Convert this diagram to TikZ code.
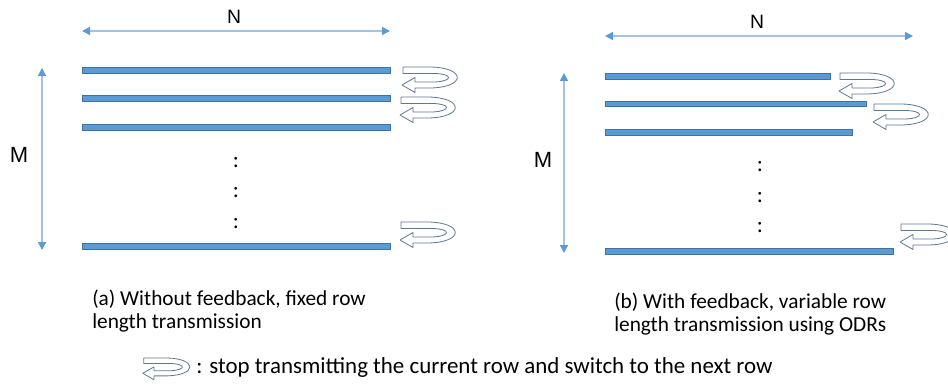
\documentclass[tikz,border=0pt]{standalone}
\usepackage{fontspec}
\setmainfont{Carlito}
\newfontfamily\arialfont{Liberation Sans}
\usetikzlibrary{arrows.meta}
\definecolor{barfill}{HTML}{5B9BD5}
\definecolor{barline}{HTML}{41719C}
\definecolor{dimline}{HTML}{A4C2E3}
\definecolor{dimhead}{HTML}{5B9BD5}
\definecolor{curlline}{HTML}{5F7890}
\begin{document}
\begin{tikzpicture}[x=0.75pt,y=-0.75pt,
  rowbar/.style={fill=barfill,draw=barline,line width=0.5pt},
  dimarrow/.style={draw=dimline,line width=1.1pt,
    {Triangle[length=6pt,width=6pt,color=dimhead]}-{Triangle[length=6pt,width=6pt,color=dimhead]}},
  nlbl/.style={font=\arialfont\fontsize{14.5}{16}\selectfont,inner sep=0pt},
  mlbl/.style={font=\arialfont\fontsize{16.5}{18}\selectfont,inner sep=0pt},
  dotlbl/.style={font=\fontsize{17}{19}\selectfont,inner sep=0pt},
  captext/.style={font=\fontsize{16}{17.25}\selectfont,align=left,inner sep=0pt,anchor=base west},
  legendtext/.style={font=\fontsize{17.2}{19}\selectfont,inner sep=0pt,anchor=base west},
  curl/.pic={
    \draw[curlline,fill=white,line width=0.6pt,line join=round]
      (2,0) -- (30,0) .. controls (65,1) and (65,20) .. (30,21) -- (14,21)
      -- (14,25.5) -- (1,18) -- (14,10.5) -- (14,15) -- (34,15)
      .. controls (52,14) and (52,7) .. (34,6.5) -- (2,6.5) -- cycle;
  }
]
\useasboundingbox[fill=white] (0,0) rectangle (948,388);

% ---------- left panel ----------
\coordinate (nLa) at (82,31);
\coordinate (nLb) at (390,31);
\draw[dimarrow] (nLa) -- (nLb);
\node[nlbl] (NL) at (234,17) {N};

\coordinate (mLa) at (42,68);
\coordinate (mLb) at (42,250);
\draw[dimarrow] (mLa) -- (mLb);
\node[mlbl] (ML) at (19,155) {M};

\draw[rowbar] (82,67) rectangle (390,73);
\draw[rowbar] (82,95) rectangle (390,101);
\draw[rowbar] (82,124) rectangle (390,130);
\draw[rowbar] (82,243) rectangle (390,249);

\node[dotlbl] (dL1) at (236,163) {:};
\node[dotlbl] (dL2) at (236,193) {:};
\node[dotlbl] (dL3) at (236,224) {:};

\pic at (401,67) {curl};
\pic at (399,97) {curl};
\pic at (399,222) {curl};

\node[captext] (capA) at (92,328) {(a) Without feedback, fixed row\\length transmission};

% ---------- right panel ----------
\coordinate (nRa) at (605,36);
\coordinate (nRb) at (913,36);
\draw[dimarrow] (nRa) -- (nRb);
\node[nlbl] (NR) at (757,22) {N};

\coordinate (mRa) at (564,73);
\coordinate (mRb) at (564,253);
\draw[dimarrow] (mRa) -- (mRb);
\node[mlbl] (MR) at (543,160) {M};

\draw[rowbar] (605,73) rectangle (830,79);
\draw[rowbar] (605,101) rectangle (866,106);
\draw[rowbar] (605,129) rectangle (852,135);
\draw[rowbar] (605,248) rectangle (893,254);

\node[dotlbl] (dR1) at (760,167) {:};
\node[dotlbl] (dR2) at (760,198) {:};
\node[dotlbl] (dR3) at (760,228) {:};

\pic at (838,73) {curl};
\pic at (872,104) {curl};
\pic at (899,224) {curl};

\node[captext] (capB) at (614,331) {(b) With feedback, variable row\\length transmission using ODRs};

% ---------- legend ----------
\pic[scale=0.85] at (142,358) {curl};
\node[legendtext] (leg) at (196,373) {: stop transmitting the current row and switch to the next row};
\end{tikzpicture}
\end{document}
